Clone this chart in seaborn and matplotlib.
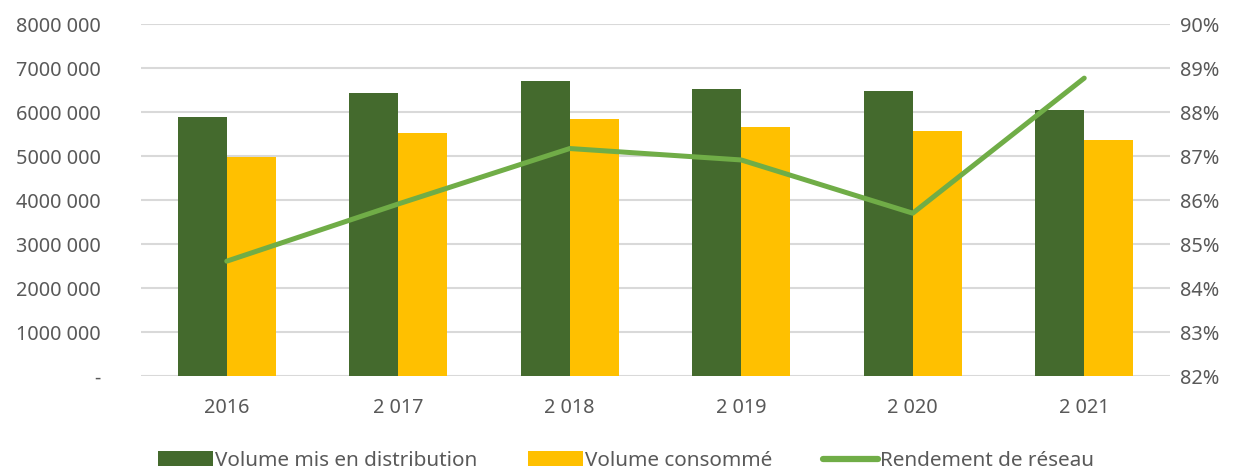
import numpy as np
import pandas as pd
import matplotlib
matplotlib.use("Agg")
import matplotlib.pyplot as plt
import seaborn as sns
from matplotlib.patches import Patch
from matplotlib.lines import Line2D

years = ["2016", "2 017", "2 018", "2 019", "2 020", "2 021"]
vol_distrib = [5890000, 6430000, 6700000, 6520000, 6480000, 6050000]
vol_conso = [4980000, 5520000, 5840000, 5660000, 5560000, 5360000]
rendement = [84.61, 85.91, 87.17, 86.91, 85.70, 88.77]
left_ticks = [0, 1000000, 2000000, 3000000, 4000000, 5000000, 6000000, 7000000, 8000000]
left_labels = ["-", "1000 000", "2000 000", "3000 000", "4000 000", "5000 000",
               "6000 000", "7000 000", "8000 000"]
right_ticks = [82, 83, 84, 85, 86, 87, 88, 89, 90]
right_labels = [f"{t}%" for t in right_ticks]
series_names = ["Volume mis en distribution", "Volume consommé", "Rendement de réseau"]

C_DARK = "#446a2d"
C_YELLOW = "#ffc000"
C_LINE = "#70ad47"
C_TEXT = "#595959"
C_GRID = "#d9d9d9"

sns.set_theme(style="white")
plt.rcParams['font.family'] = ['Noto Sans', 'DejaVu Sans']

df = pd.DataFrame({
    "year": years * 2,
    "value": vol_distrib + vol_conso,
    "serie": [series_names[0]] * len(years) + [series_names[1]] * len(years),
})

fig = plt.figure(figsize=(12.37, 4.71), dpi=100)
ax = fig.add_axes([141 / 1237, 1 - 376 / 471, (1170 - 141) / 1237, (376 - 24) / 471])

sns.barplot(data=df, x="year", y="value", hue="serie", order=years,
            hue_order=series_names[:2], palette=[C_DARK, C_YELLOW],
            width=0.572, gap=0, saturation=1, edgecolor="none", linewidth=0,
            legend=False, ax=ax)

ax.set_ylim(0, 8000000)
ax.set_xlim(-0.5, len(years) - 0.5)
ax.set_yticks(left_ticks)
ax.set_yticklabels(left_labels)
ax.grid(axis="y", color=C_GRID, linewidth=1.5)
ax.set_axisbelow(True)
for s in ax.spines.values():
    s.set_visible(False)
ax.set_xlabel("")
ax.set_ylabel("")
ax.tick_params(axis="both", length=0, colors=C_TEXT, labelsize=14.3)
ax.tick_params(axis="x", pad=16)
ax.tick_params(axis="y", pad=29)
for lab in ax.get_yticklabels():
    lab.set_horizontalalignment("right")

ax2 = ax.twinx()
sns.lineplot(x=np.arange(len(years)), y=rendement, color=C_LINE, linewidth=3.6,
             solid_capstyle="round", ax=ax2, legend=False)
ax2.set_ylim(82, 90)
ax2.set_yticks(right_ticks)
ax2.set_yticklabels(right_labels)
ax2.grid(False)
for s in ax2.spines.values():
    s.set_visible(False)
ax2.tick_params(axis="y", length=0, colors=C_TEXT, labelsize=14.3, pad=7)
ax2.set_xlim(-0.5, len(years) - 0.5)

handles = [Patch(facecolor=C_DARK, edgecolor="none"),
           Patch(facecolor=C_YELLOW, edgecolor="none"),
           Line2D([0], [0], color=C_LINE, linewidth=4.5, solid_capstyle="round")]
leg = fig.legend(handles, series_names, loc="center", bbox_to_anchor=(0.506, 1 - 461 / 471),
                 ncol=3, frameon=False, fontsize=14.9, handlelength=2.65, handleheight=0.75,
                 handletextpad=0.1, columnspacing=2.45)
for t in leg.get_texts():
    t.set_color(C_TEXT)

fig.savefig("out.png", dpi=100)
